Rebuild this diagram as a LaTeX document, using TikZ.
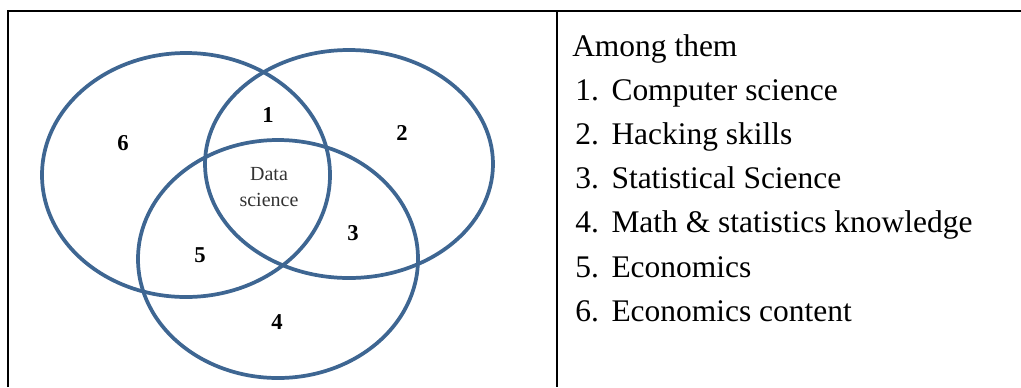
\documentclass[tikz,border=0pt]{standalone}
\usepackage{fontspec}
\setmainfont{Liberation Serif}
\usepackage{tikz}
\usetikzlibrary{positioning}

\definecolor{setblue}{RGB}{62,102,146}
\newcommand{\itemgap}{\hspace{9.5pt}}

\begin{document}
\begin{tikzpicture}[x=0.75pt,y=-0.75pt,
  setline/.style={draw=setblue,line width=2.8pt},
  region/.style={font=\fontsize{17}{17}\selectfont\bfseries},
  item/.style={anchor=base west,font=\fontsize{23.6}{24}\selectfont,inner sep=0pt}]
  \useasboundingbox (0,0) rectangle (1021,387);
  % table frame
  \coordinate (TL) at (8,11);
  \coordinate (TR) at (1021,11);
  \coordinate (BL) at (8,387);
  \coordinate (DT) at (557,11);
  \coordinate (DB) at (557,387);
  \draw[line width=1.6pt] (BL) -- (TL) -- (TR);
  \draw[line width=1.6pt] (DT) -- (DB);
  % the three sets
  \draw[setline] (186,175) ellipse [x radius=144,y radius=122];
  \draw[setline] (349,164) ellipse [x radius=144,y radius=114];
  \draw[setline] (278,259) ellipse [x radius=140,y radius=119];
  % region labels
  \node[region] (r1) at (268,115) {1};
  \node[region] (r2) at (402,133) {2};
  \node[region] (r3) at (353,233) {3};
  \node[region] (r4) at (277,322) {4};
  \node[region] (r5) at (200,255) {5};
  \node[region] (r6) at (123,143) {6};
  \node[font=\fontsize{15}{20}\selectfont,text=black!80,align=center]
    (ds) at (269,187) {Data\\science};
  % legend
  \node[item] (head) at (572,56) {Among them};
  \node[item] (l1) at (575,100) {1.\itemgap Computer science};
  \node[item] (l2) at (575,144) {2.\itemgap Hacking skills};
  \node[item] (l3) at (575,188) {3.\itemgap Statistical Science};
  \node[item] (l4) at (575,232) {4.\itemgap Math \& statistics knowledge};
  \node[item] (l5) at (575,277) {5.\itemgap Economics};
  \node[item] (l6) at (575,321) {6.\itemgap Economics content};
\end{tikzpicture}
\end{document}
